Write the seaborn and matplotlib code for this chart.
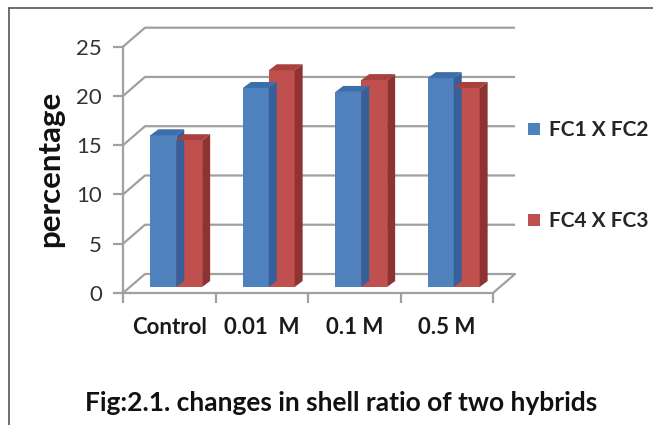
import numpy as np
import pandas as pd
import matplotlib
matplotlib.use("Agg")
import matplotlib.pyplot as plt
import matplotlib.transforms as mtrans
from matplotlib.patches import Polygon, Patch
from matplotlib.lines import Line2D
import seaborn as sns

# ---- data ----
categories = ["Control", "0.01  M", "0.1 M", "0.5 M"]
series_names = ["FC1 X FC2", "FC4 X FC3"]
fc1_x_fc2 = [15.4, 20.2, 19.8, 21.2]
fc4_x_fc3 = [14.9, 22.0, 21.0, 20.2]
y_ticks = [0, 5, 10, 15, 20, 25]
y_label = "percentage"
title = "Fig:2.1. changes in shell ratio of two hybrids"

df = pd.DataFrame({
    "category": categories * 2,
    "series": [series_names[0]] * 4 + [series_names[1]] * 4,
    "value": fc1_x_fc2 + fc4_x_fc3,
})

sns.set_theme(style="white")
plt.rcParams["font.family"] = ["Lato", "DejaVu Sans"]

W, H = 653, 425
DPI = 100
fig = plt.figure(figsize=(W / DPI, H / DPI), dpi=DPI)

# front plane of the 3D box (pixels)
x_left, x_right = 123, 493
y0_px, y25_px = 293, 46.7
ax = fig.add_axes([x_left / W, 1 - y0_px / H, (x_right - x_left) / W, (y0_px - y25_px) / H])

blue, red = "#4f81bd", "#c0504d"
side = {blue: "#37609a", red: "#8e3331"}
top = {blue: "#3e6dac", red: "#a8403d"}

sns.barplot(data=df, x="category", y="value", hue="series", order=categories,
            hue_order=series_names, palette=[blue, red], width=0.56, gap=0,
            saturation=1, ax=ax, legend=False, linewidth=0, edgecolor="none")

ax.set_xlim(-0.5, len(categories) - 0.5)
ax.set_ylim(0, 25)

px_x = (x_right - x_left) / len(categories)   # pixels per x unit
px_y = (y0_px - y25_px) / 25                  # pixels per y unit

# bar plane offset and bar depth (pixels)
bar_off = mtrans.ScaledTranslation(7 / DPI, 6 / DPI, fig.dpi_scale_trans)
bar_trans = ax.transData + bar_off
ddx, ddy = 8 / px_x, 6 / px_y

for p in list(ax.patches):
    x, y, w, h = p.get_x(), p.get_y(), p.get_width(), p.get_height()
    if h == 0:
        continue
    fc = matplotlib.colors.to_hex(p.get_facecolor()).lower()
    p.set_transform(bar_trans)
    p.set_zorder(3)
    sidep = Polygon([(x + w, y), (x + w + ddx, y + ddy), (x + w + ddx, y + h + ddy), (x + w, y + h)],
                    closed=True, facecolor=side.get(fc, "#555555"), edgecolor="none",
                    transform=bar_trans, zorder=3, clip_on=False)
    topp = Polygon([(x, y + h), (x + ddx, y + h + ddy), (x + w + ddx, y + h + ddy), (x + w, y + h)],
                   closed=True, facecolor=top.get(fc, "#555555"), edgecolor="none",
                   transform=bar_trans, zorder=3, clip_on=False)
    ax.add_patch(sidep)
    ax.add_patch(topp)

# back wall gridlines and floor
grid_c = "#A0A0A0"
bdx, bdy = 22 / px_x, 19 / px_y
xl, xr = -0.5, len(categories) - 0.5
for yv in y_ticks:
    ax.plot([xl, xl + bdx, xr + bdx], [yv, yv + bdy, yv + bdy], color=grid_c, lw=1.6,
            zorder=1, clip_on=False, solid_capstyle="butt")
ax.plot([xr, xr + bdx], [0, bdy], color=grid_c, lw=1.6, zorder=1, clip_on=False)

# spines / ticks
for s in ["top", "right"]:
    ax.spines[s].set_visible(False)
for s in ["left", "bottom"]:
    ax.spines[s].set_color(grid_c)
    ax.spines[s].set_linewidth(1.6)
    ax.spines[s].set_zorder(0.5)

ax.set_yticks(y_ticks)
ax.set_yticklabels([str(v) for v in y_ticks])
ax.tick_params(axis="y", direction="out", length=7, width=1.6, color=grid_c,
               labelsize=16, labelcolor="#333333", pad=8, left=True)
ax.set_xticks(np.arange(len(categories) + 1) - 0.5)
ax.set_xticklabels([""] * (len(categories) + 1))
ax.set_xticks(np.arange(len(categories)), minor=True)
ax.set_xticklabels(categories, minor=True, fontweight="bold", fontsize=16, color="#1a1a1a")
ax.tick_params(axis="x", which="major", direction="out", length=7, width=1.6, color=grid_c, bottom=True)
ax.tick_params(axis="x", which="minor", length=0, pad=17)
ax.set_xlabel("")
ylab = ax.set_ylabel(y_label, fontweight="bold", fontsize=22.5, color="#111111")
ylab.set_rotation_mode("default")
ylab.set_horizontalalignment("right")
ylab.set_verticalalignment("center")
ax.yaxis.set_label_coords((64 - x_left) / (x_right - x_left), (y0_px - 169) / (y0_px - y25_px))
ax.set_facecolor("none")
ax.grid(False)

# legend
handles = [Patch(facecolor=blue, edgecolor="none"), Patch(facecolor=red, edgecolor="none")]
leg = fig.legend(handles, series_names, loc="upper left", bbox_to_anchor=(518 / W, 1 - 110 / H),
                 frameon=False, prop={"weight": "bold", "size": 15}, handlelength=0.55,
                 handleheight=0.55, handletextpad=0.45, labelspacing=3.4, borderpad=0)

# title
fig.text(341 / W, 1 - 403 / H, title, ha="center", va="center", fontsize=19,
         fontweight="bold", color="#111111")

# outer frame
fig.add_artist(Line2D([9 / W, 1], [1 - 8 / H, 1 - 8 / H], color="#555555", lw=1.2,
                      transform=fig.transFigure))
fig.add_artist(Line2D([9 / W, 9 / W], [0, 1 - 8 / H], color="#555555", lw=1.2,
                      transform=fig.transFigure))

fig.savefig("out.png", dpi=DPI)
